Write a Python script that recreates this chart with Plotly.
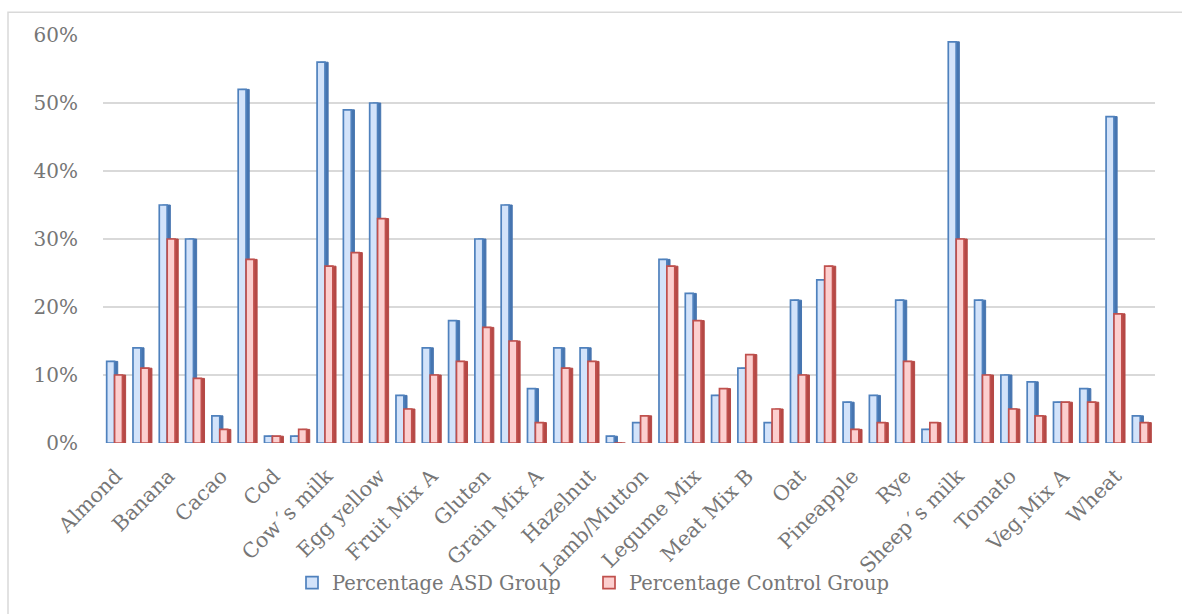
import plotly.graph_objects as go

# Food allergen sensitisation: share of children with positive IgG per food
tick_labels = ["Almond", "Banana", "Cacao", "Cod", "Cow\u00b4s milk", "Egg yellow",
               "Fruit Mix A", "Gluten", "Grain Mix A", "Hazelnut", "Lamb/Mutton",
               "Legume Mix", "Meat Mix B", "Oat", "Pineapple", "Rye",
               "Sheep\u00b4s milk", "Tomato", "Veg.Mix A", "Wheat"]

asd_pct = [12, 14, 35, 30, 4, 52, 1, 1, 56, 49,
           50, 7, 14, 18, 30, 35, 8, 14, 14, 1,
           3, 27, 22, 7, 11, 3, 21, 24, 6, 7,
           21, 2, 59, 21, 10, 9, 6, 8, 48, 4]

control_pct = [10, 11, 30, 9.5, 2, 27, 1, 2, 26, 28,
               33, 5, 10, 12, 17, 15, 3, 11, 12, 0,
               4, 26, 18, 8, 13, 5, 10, 26, 2, 3,
               12, 3, 30, 10, 5, 4, 6, 6, 19, 3]

positions = list(range(len(asd_pct)))
asd = [v / 100 for v in asd_pct]
ctrl = [v / 100 for v in control_pct]

FACE_W = 0.30
DEPTH = 0.12
BLUE_EDGE = "#4f81bd"
BLUE_SIDE = "#4675b0"
BLUE_FACE = "#d3e3fa"
RED_EDGE = "#c0504d"
RED_SIDE = "#b54845"
RED_FACE = "#fccfcf"

fig = go.Figure()

# each series: a dark side slab behind a light front face for a 3-D column look
fig.add_trace(go.Bar(x=positions, y=asd, width=FACE_W, offset=-0.36 + DEPTH,
                     marker=dict(color=BLUE_SIDE, line=dict(color=BLUE_SIDE, width=1)),
                     showlegend=False, hoverinfo="skip"))
fig.add_trace(go.Bar(x=positions, y=asd, width=FACE_W, offset=-0.36,
                     name="Percentage ASD Group", legend="legend",
                     marker=dict(color=BLUE_FACE, line=dict(color=BLUE_EDGE, width=1.7))))
fig.add_trace(go.Bar(x=positions, y=ctrl, width=FACE_W, offset=-0.06 + DEPTH,
                     marker=dict(color=RED_SIDE, line=dict(color=RED_SIDE, width=1)),
                     showlegend=False, hoverinfo="skip"))
fig.add_trace(go.Bar(x=positions, y=ctrl, width=FACE_W, offset=-0.06,
                     name="Percentage Control Group", legend="legend2",
                     marker=dict(color=RED_FACE, line=dict(color=RED_EDGE, width=1.7))))

FONT = "DejaVu Serif"
GREY = "#767676"

legend_style = dict(
    orientation="h", xanchor="left", y=-0.295, yanchor="top",
    font=dict(family=FONT, size=19.5, color=GREY),
    bgcolor="rgba(0,0,0,0)", itemwidth=30,
)

fig.update_layout(
    width=1182, height=614,
    barmode="overlay",
    plot_bgcolor="white", paper_bgcolor="white",
    margin=dict(l=103, r=27, t=35, b=165),
    font=dict(family=FONT, color=GREY, size=19),
    xaxis=dict(
        range=[-0.5, len(positions) - 0.5],
        tickmode="array",
        tickvals=positions[::2],
        ticktext=tick_labels,
        tickangle=-45,
        tickfont=dict(family=FONT, size=20.5, color=GREY),
        showgrid=False, zeroline=False, showline=False, ticks="",
        ticklabelstandoff=16,
    ),
    yaxis=dict(
        range=[0, 0.6],
        tickvals=[0, 0.1, 0.2, 0.3, 0.4, 0.5, 0.6],
        tickformat=".0%",
        tickfont=dict(family=FONT, size=20, color=GREY),
        showgrid=True, gridcolor="#d9d9d9", gridwidth=2,
        zeroline=False, showline=False, ticks="", ticklen=0,
        ticklabelstandoff=24,
    ),
    legend=dict(x=(292 - 103) / 1052, **legend_style),
    legend2=dict(x=(589 - 103) / 1052, **legend_style),
    shapes=[
        # outer chart frame
        dict(type="rect", xref="paper", yref="paper",
             x0=(8 - 103) / 1052, x1=1.06, y0=-0.45, y1=1 + (35 - 12) / 414,
             line=dict(color="#d9d9d9", width=1.5), fillcolor="rgba(0,0,0,0)",
             layer="below"),
    ],
)

fig.write_html("out.html")
